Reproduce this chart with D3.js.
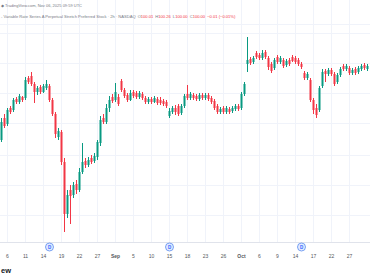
<!DOCTYPE html>
<html>
<head>
<meta charset="utf-8">
<script src="https://cdn.jsdelivr.net/npm/d3@7"></script>
<style>
  body { margin: 0; background: #fff; }
  svg { display: block; font-family: "Liberation Sans", Arial, sans-serif; }
</style>
</head>
<body>
<div id="chart"></div>
<script>
// trading days shown (2 bars of 2h candles drawn per day)
const days = ["Aug 5","Aug 6","Aug 7","Aug 8","Aug 11","Aug 12","Aug 13","Aug 14","Aug 15",
  "Aug 18","Aug 19","Aug 20","Aug 21","Aug 22","Aug 25","Aug 26","Aug 27","Aug 28","Aug 29",
  "Sep 2","Sep 3","Sep 4","Sep 5","Sep 8","Sep 9","Sep 10","Sep 11","Sep 12","Sep 15","Sep 16",
  "Sep 17","Sep 18","Sep 19","Sep 22","Sep 23","Sep 24","Sep 25","Sep 26","Sep 29","Sep 30",
  "Oct 1","Oct 2","Oct 3","Oct 6","Oct 7","Oct 8","Oct 9","Oct 10","Oct 13","Oct 14","Oct 15",
  "Oct 16","Oct 17","Oct 20","Oct 21","Oct 22","Oct 23","Oct 24","Oct 27","Oct 28","Oct 29","Oct 30"];
const barsPerDay = 2;

const opens = [96.50, 97.60, 97.30, 98.10, 98.00, 98.55, 98.40, 98.65, 98.60, 99.60,
  99.70, 99.30, 98.90, 99.15, 98.90, 99.10, 99.20, 98.50, 97.80, 96.65,
  96.90, 95.40, 92.80, 94.00, 93.75, 94.30, 94.00, 94.90, 95.45, 95.25,
  95.60, 95.45, 95.65, 96.35, 97.60, 97.40, 98.10, 98.65, 98.50, 98.65,
  99.45, 99.00, 98.75, 98.50, 98.90, 98.85, 98.65, 98.80, 98.60, 98.40,
  98.55, 98.40, 98.55, 98.50, 98.45, 98.40, 97.70, 97.90, 98.10, 98.20,
  97.85, 98.20, 98.80, 98.60, 98.75, 98.70, 98.55, 98.75, 98.60, 98.75,
  98.60, 98.45, 98.20, 97.90, 98.10, 97.90, 98.05, 97.95, 98.05, 98.20,
  98.10, 98.80, 100.30, 100.55, 100.40, 100.85, 100.75, 100.60, 100.90, 100.60,
  100.30, 100.10, 100.65, 100.40, 100.50, 100.25, 100.50, 100.65, 100.60, 100.50,
  100.30, 99.85, 99.60, 99.50, 98.50, 98.10, 98.00, 99.20, 99.95, 99.80,
  100.00, 99.80, 99.40, 99.75, 100.20, 100.05, 100.10, 99.85, 100.05, 99.90,
  100.05, 100.25, 100.05];
const highs = [97.60, 97.80, 98.10, 98.20, 98.60, 98.65, 98.80, 98.70, 99.65, 99.70,
  99.90, 99.40, 99.20, 99.25, 99.30, 99.50, 99.30, 98.60, 97.90, 97.10,
  97.00, 95.60, 94.00, 94.25, 94.40, 94.50, 95.10, 96.35, 95.60, 95.65,
  95.75, 95.85, 96.50, 97.70, 97.80, 98.30, 98.70, 98.80, 99.35, 98.80,
  99.55, 99.10, 98.85, 99.00, 99.00, 98.95, 98.95, 98.90, 98.70, 98.65,
  98.65, 98.70, 98.65, 98.65, 98.55, 98.50, 98.10, 98.20, 98.25, 98.30,
  98.30, 98.80, 99.25, 98.90, 98.85, 98.80, 98.85, 98.85, 98.85, 98.85,
  98.70, 98.55, 98.30, 98.15, 98.20, 98.20, 98.15, 98.20, 98.30, 98.30,
  98.90, 99.40, 101.65, 100.65, 100.70, 100.95, 100.85, 101.00, 101.00, 100.70,
  100.40, 100.60, 100.75, 100.70, 100.60, 100.55, 100.60, 100.75, 100.70, 100.60,
  100.40, 99.95, 99.90, 99.60, 98.60, 98.30, 99.20, 100.05, 100.05, 100.10,
  100.10, 99.90, 99.85, 100.15, 100.30, 100.30, 100.20, 100.10, 100.15, 100.20,
  100.30, 100.35, 100.30];
const lows = [96.40, 97.10, 97.20, 97.80, 97.90, 98.30, 98.30, 98.40, 98.50, 99.30,
  99.20, 98.35, 98.75, 98.80, 98.85, 99.00, 98.40, 97.70, 96.60, 96.50,
  95.25, 91.90, 92.60, 92.30, 93.60, 93.80, 93.90, 94.80, 95.10, 95.15,
  95.30, 95.35, 95.50, 96.20, 97.30, 97.30, 97.90, 98.35, 98.40, 98.20,
  98.90, 98.60, 98.40, 98.45, 98.60, 98.55, 98.55, 98.50, 98.30, 98.30,
  98.30, 98.35, 98.25, 98.25, 98.20, 98.10, 97.60, 97.80, 97.75, 97.70,
  97.75, 98.10, 98.50, 98.50, 98.50, 98.45, 98.45, 98.50, 98.50, 98.45,
  98.30, 98.00, 97.80, 97.80, 97.80, 97.80, 97.80, 97.85, 97.95, 97.95,
  98.00, 98.70, 99.90, 100.25, 100.30, 100.55, 100.50, 100.50, 100.55, 100.00,
  99.85, 100.00, 100.30, 100.30, 100.10, 100.15, 100.20, 100.40, 100.30, 100.20,
  100.05, 99.50, 99.50, 98.40, 97.80, 97.60, 97.90, 99.10, 99.40, 99.70,
  99.70, 99.20, 99.30, 99.65, 99.95, 99.95, 99.75, 99.75, 99.75, 99.80,
  99.95, 100.00, 99.95];
const closes = [97.40, 97.20, 98.00, 97.90, 98.50, 98.40, 98.70, 98.50, 99.50, 99.40,
  99.30, 98.90, 99.10, 98.90, 99.20, 99.30, 98.50, 97.80, 96.80, 96.95,
  95.40, 92.80, 93.75, 93.70, 94.25, 94.00, 94.90, 95.40, 95.25, 95.50,
  95.40, 95.70, 96.40, 97.50, 97.40, 98.10, 98.50, 98.45, 98.90, 98.30,
  99.00, 98.70, 98.50, 98.85, 98.70, 98.65, 98.85, 98.60, 98.40, 98.55,
  98.40, 98.60, 98.35, 98.35, 98.30, 98.20, 97.95, 98.10, 97.90, 97.80,
  98.20, 98.70, 98.60, 98.80, 98.60, 98.55, 98.75, 98.60, 98.75, 98.55,
  98.40, 98.10, 97.90, 98.05, 97.90, 98.10, 97.90, 98.10, 98.20, 98.05,
  98.80, 99.30, 100.50, 100.35, 100.60, 100.65, 100.60, 100.85, 100.65, 100.15,
  99.95, 100.50, 100.40, 100.60, 100.20, 100.45, 100.30, 100.45, 100.40, 100.30,
  100.15, 99.60, 99.80, 98.50, 98.00, 97.75, 99.10, 99.90, 99.80, 100.00,
  99.80, 99.30, 99.75, 100.05, 100.05, 100.20, 99.85, 100.00, 99.85, 100.10,
  100.20, 100.10, 100.20];

const tickDays = ["Aug 6","Aug 11","Aug 14","Aug 19","Aug 22","Aug 27","Sep 2","Sep 5","Sep 10",
  "Sep 15","Sep 18","Sep 23","Sep 26","Oct 1","Oct 6","Oct 9","Oct 14","Oct 17","Oct 22","Oct 27"];
const tickLabels = ["6","11","14","19","22","27","Sep","5","10","15","18","23","26","Oct","6","9",
  "14","17","22","27"];
const dividendDays = ["Aug 15","Sep 15","Oct 15"];
const gridPrices = [92.75, 94.25, 95.75, 97.35, 98.85, 100.35, 101.85];

const stampText = "TradingView.com, Nov 06, 2025 09:59 UTC";
const titleText = "- Variable Rate Series A Perpetual Stretch Preferred Stock · 2h · NASDAQ";
const legendKeys = ["O", "H", "L", "C"];
const legendVals = ["100.01", "100.26", "100.00", "100.00"];
const legendChange = "−0.01 (−0.01%)";
const logoTail = "ew";

const W = 370, H = 280;
const upColor = "#089981", downColor = "#f23645";
const gridColor = "#f0f3fa";

const svg = d3.select("#chart").append("svg")
  .attr("width", W).attr("height", H);

const x = d3.scaleLinear().domain([0, 123]).range([1, 370]);
const y = d3.scaleLinear().domain([91.5, 102.25]).range([240, 25]);
const dayX = d => x(days.indexOf(d) * barsPerDay);

// grid
svg.append("g").selectAll("line").data(tickDays).join("line")
  .attr("x1", d => dayX(d) + 0.5).attr("x2", d => dayX(d) + 0.5)
  .attr("y1", 0).attr("y2", 242)
  .attr("stroke", gridColor).attr("stroke-width", 1);
svg.append("g").selectAll("line").data(gridPrices).join("line")
  .attr("x1", 0).attr("x2", W)
  .attr("y1", d => Math.round(y(d)) + 0.5).attr("y2", d => Math.round(y(d)) + 0.5)
  .attr("stroke", gridColor).attr("stroke-width", 1);
svg.append("line")
  .attr("x1", 0).attr("x2", W).attr("y1", 242.5).attr("y2", 242.5)
  .attr("stroke", "#e0e3eb");

// candles
const bars = d3.range(opens.length);
const color = i => closes[i] >= opens[i] ? upColor : downColor;
const candles = svg.append("g");
candles.selectAll("line").data(bars).join("line")
  .attr("x1", i => x(i) + 0.5).attr("x2", i => x(i) + 0.5)
  .attr("y1", i => y(highs[i])).attr("y2", i => y(lows[i]))
  .attr("stroke", color).attr("stroke-width", 1);
candles.selectAll("rect").data(bars).join("rect")
  .attr("x", i => x(i) - 0.5)
  .attr("width", 2)
  .attr("y", i => y(Math.max(opens[i], closes[i])))
  .attr("height", i => Math.max(1, Math.abs(y(opens[i]) - y(closes[i]))))
  .attr("fill", color);

// time axis
const tickBars = tickDays.map(d => days.indexOf(d) * barsPerDay);
const axis = d3.axisBottom(x)
  .tickValues(tickBars)
  .tickFormat((d, i) => tickLabels[i])
  .tickSize(0).tickPadding(0);
const ax = svg.append("g").attr("transform", "translate(0,254)").call(axis);
ax.select(".domain").remove();
ax.selectAll("text")
  .attr("font-size", 5).attr("fill", "#131722").attr("opacity", 0.75)
  .attr("font-weight", d => ["Sep", "Oct"].includes(tickLabels[tickBars.indexOf(d)]) ? "bold" : "normal");

// dividend markers
const divs = svg.append("g").selectAll("g").data(dividendDays).join("g")
  .attr("transform", d => `translate(${dayX(d) + 0.5},247)`);
divs.append("circle").attr("r", 4)
  .attr("fill", "#e3ecff").attr("stroke", "#5b8def").attr("stroke-width", 0.8);
divs.append("text").text("D")
  .attr("text-anchor", "middle").attr("dy", "0.35em")
  .attr("font-size", 4.5).attr("font-weight", "bold").attr("fill", "#2962ff");

// header
svg.append("text").attr("x", 1).attr("y", 7)
  .attr("font-size", 4).attr("fill", "#787b86")
  .text("◆ " + stampText);

const title = svg.append("text").attr("x", 1).attr("y", 18)
  .attr("font-size", 4.1).attr("fill", "#787b86");
title.append("tspan").text(titleText);
legendKeys.forEach((k, i) => {
  title.append("tspan").attr("dx", 2).text(k);
  title.append("tspan").attr("fill", downColor).text(legendVals[i]);
});
title.append("tspan").attr("dx", 2).attr("fill", downColor).text(legendChange);

svg.append("line")
  .attr("x1", 0).attr("x2", W).attr("y1", 24.5).attr("y2", 24.5)
  .attr("stroke", gridColor);

// tail of the watermark name at the lower left
svg.append("text").attr("x", 1).attr("y", 273)
  .attr("font-size", 7.5).attr("font-weight", "bold").attr("fill", "#131722")
  .text(logoTail);
</script>
</body>
</html>
